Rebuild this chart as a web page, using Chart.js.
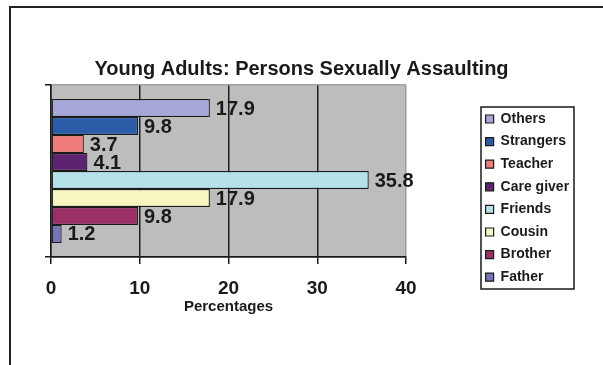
<!DOCTYPE html>
<html>
<head>
<meta charset="utf-8">
<script src="https://cdn.jsdelivr.net/npm/chart.js@4/dist/chart.umd.min.js"></script>
<style>
  html, body { margin: 0; padding: 0; background: #fff; overflow: hidden; }
  #wrap { position: relative; width: 603px; height: 365px; }
  #frame { position: absolute; left: 9px; top: 6px; right: -4px; bottom: -4px; border-left: 2px solid #222; border-top: 2px solid #222; pointer-events: none; }
  canvas { position: absolute; left: 0; top: 0; }
</style>
</head>
<body>
<div id="wrap">
  <canvas id="grafico" width="603" height="365"></canvas>
  <div id="frame"></div>
</div>
<script>
// quem cometeu a agressao, em porcentagem (de cima pra baixo)
const pessoas = ['Others', 'Strangers', 'Teacher', 'Care giver', 'Friends', 'Cousin', 'Brother', 'Father']
const valores = [17.9, 9.8, 3.7, 4.1, 35.8, 17.9, 9.8, 1.2]
const cores = ['#a6a6d8', '#2b5ca8', '#f27c7c', '#5e2370', '#b4e1ea', '#f7f6c0', '#9b2f66', '#7474b9']
const ticksX = [0, 10, 20, 30, 40]

const fonte = '"Liberation Sans", Arial, Helvetica, sans-serif'
const preto = '#1a1a1a'
Chart.defaults.font.family = fonte
Chart.defaults.color = preto

// fundo cinza da area do grafico
const fundo = {
  id: 'fundo',
  beforeDraw(chart) {
    const { ctx, chartArea: a } = chart
    ctx.save()
    ctx.fillStyle = '#bdbdbd'
    ctx.fillRect(a.left, a.top, a.right - a.left, a.bottom - a.top)
    ctx.restore()
  }
}

// numeros na ponta de cada barra
const rotulos = {
  id: 'rotulos',
  afterDatasetsDraw(chart) {
    const ctx = chart.ctx
    ctx.save()
    ctx.font = 'bold 20px ' + fonte
    ctx.fillStyle = preto
    ctx.textBaseline = 'middle'
    chart.data.datasets.forEach((ds, i) => {
      chart.getDatasetMeta(i).data.forEach((bar, j) => {
        ctx.fillText(ds.data[j].toFixed(1), bar.x + 6, bar.y + 1)
      })
    })
    ctx.restore()
  }
}

// legenda fica a direita, com uma caixa em volta
const caixaLegenda = {
  id: 'caixaLegenda',
  afterLayout(chart) {
    const lg = chart.legend
    const w = lg.right - lg.left
    lg.left = 477
    lg.top = 103.4
    lg.right = lg.left + w
    lg.bottom = lg.top + 300
  },
  afterDraw(chart) {
    const lg = chart.legend
    const ctx = chart.ctx
    ctx.save()
    ctx.strokeStyle = preto
    ctx.lineWidth = 1.5
    ctx.strokeRect(lg.left + 4, lg.top + 3.6, 93, 182)
    ctx.restore()
  }
}

new Chart(document.getElementById('grafico'), {
  type: 'bar',
  data: {
    labels: [''],
    datasets: pessoas.map((p, i) => ({
      label: p,
      data: [valores[i]],
      backgroundColor: cores[i],
      borderColor: preto,
      borderWidth: 1.2,
      borderSkipped: false,
      categoryPercentage: 0.837,
      barPercentage: 1
    }))
  },
  options: {
    indexAxis: 'y',
    responsive: false,
    animation: false,
    layout: { padding: { left: 0, right: 0, top: 0, bottom: 49 } },
    scales: {
      x: {
        min: ticksX[0],
        max: ticksX[ticksX.length - 1],
        afterBuildTicks: s => { s.ticks = ticksX.map(v => ({ value: v })) },
        afterFit: s => { s.height = 59 },
        grid: {
          color: c => (c.tick && c.tick.value === 40 ? '#9c9c9c' : '#1e1e1e'),
          lineWidth: 1.5,
          tickColor: preto,
          tickLength: 7
        },
        border: { color: preto, width: 1.5 },
        ticks: { font: { size: 19, weight: 'bold' }, padding: 13, color: preto },
        title: { display: true, text: 'Percentages', font: { size: 15, weight: 'bold' }, padding: { top: 0, bottom: 0 }, color: preto }
      },
      y: {
        afterFit: s => { s.width = 51 },
        grid: {
          color: c => (c.index === 0 ? '#a0a0a0' : preto),
          lineWidth: 1.5,
          tickColor: preto,
          tickLength: 6
        },
        border: { color: preto, width: 1.5 },
        ticks: { display: false }
      },
      espaco: {
        // so reserva o lugar da legenda a direita
        axis: 'y',
        type: 'linear',
        position: 'right',
        afterFit: s => { s.width = 197 },
        grid: { display: false },
        border: { display: false },
        ticks: { display: false }
      }
    },
    plugins: {
      title: {
        display: true,
        text: 'Young Adults: Persons Sexually Assaulting',
        font: { size: 20, weight: 'bold' },
        color: preto,
        padding: { top: 57, bottom: 4 }
      },
      legend: {
        position: 'chartArea',
        align: 'start',
        labels: {
          boxWidth: 8,
          boxHeight: 8,
          padding: 8.6,
          color: preto,
          font: { size: 14, weight: 'bold' }
        }
      },
      tooltip: { enabled: false }
    }
  },
  plugins: [fundo, rotulos, caixaLegenda]
})
</script>
</body>
</html>
